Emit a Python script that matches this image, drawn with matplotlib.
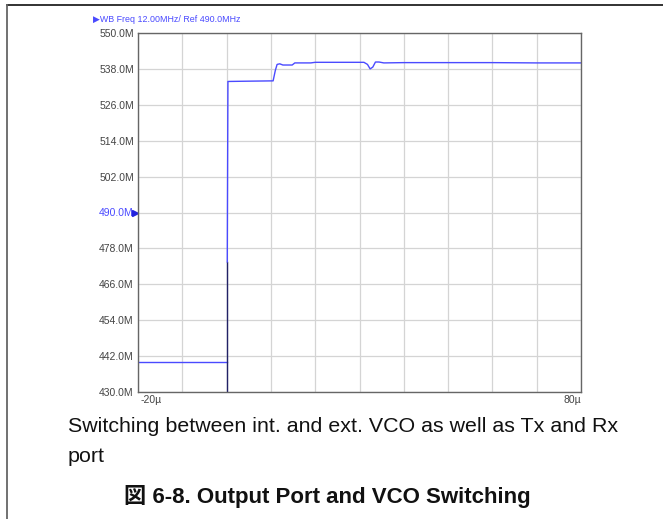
import matplotlib
matplotlib.use("Agg")
import matplotlib.pyplot as plt
import matplotlib.transforms as mtransforms
from matplotlib.lines import Line2D

# trace (time in microseconds, frequency in MHz)
t_low = [-20, 0.0]
f_low = [440.0, 440.0]
t_jump = [0.0, 0.0]
f_jump = [430.0, 473.5]
t_trace = [0.15, 0.3, 5.0, 10.5, 11.0, 11.4, 12.0, 12.7, 14.8, 15.4, 19.0, 20.0,
           31.0, 31.8, 32.4, 33.0, 33.6, 34.4, 35.5, 40, 50, 60, 70, 80]
f_trace = [473.5, 533.8, 533.9, 534.0, 537.5, 539.5, 539.7, 539.3, 539.3, 540.0, 540.0, 540.2,
           540.2, 539.5, 538.0, 538.6, 540.3, 540.3, 540.0, 540.1, 540.1, 540.1, 540.0, 540.0]

y_ticks = [430, 442, 454, 466, 478, 490, 502, 514, 526, 538, 550]
x_ticks = [-20, -10, 0, 10, 20, 30, 40, 50, 60, 70, 80]

blue = "#4a4aff"
label_font = ["Liberation Sans", "DejaVu Sans"]

fig = plt.figure(figsize=(6.63, 5.19), dpi=100)
ax = fig.add_axes([138 / 663, 1 - 392 / 519, 443 / 663, 359 / 519])

ax.plot(t_low, f_low, color=blue, lw=1.0)
ax.plot(t_jump, f_jump, color="#222266", lw=1.0)
ax.plot(t_trace, f_trace, color=blue, lw=1.0)

ax.set_xlim(-20, 80)
ax.set_ylim(430, 550)
ax.set_xticks(x_ticks)
ax.set_yticks(y_ticks)
ax.grid(True, color="#d4d4d4", lw=0.9)
ax.set_axisbelow(True)
for s in ax.spines.values():
    s.set_color("#666666")
    s.set_linewidth(1.0)
ax.tick_params(length=0, pad=3)
ax.set_xticklabels([])
ylabels = [f"{v:.1f}M" for v in y_ticks]
ax.set_yticklabels(ylabels, fontsize=7.5, family=label_font, color="#444444")
for lbl, v in zip(ax.get_yticklabels(), y_ticks):
    if v == 490:
        lbl.set_color(blue)

# x-axis end labels
ax.text(0.005, -0.008, "-20\u00b5", transform=ax.transAxes, ha="left", va="top",
        fontsize=7.5, family=label_font, color="#444444")
ax.text(1.0, -0.008, "80\u00b5", transform=ax.transAxes, ha="right", va="top",
        fontsize=7.5, family=label_font, color="#444444")

# reference marker at 490 MHz
trans = mtransforms.blended_transform_factory(ax.transAxes, ax.transData)
ax.plot([-0.006], [490], marker=">", color="#2222dd", ms=4, transform=trans, clip_on=False)

# header
fig.text(93 / 663, 1 - 20 / 519, "\u25b6WB Freq 12.00MHz/ Ref 490.0MHz", ha="left", va="center",
         fontsize=6.4, family=label_font, color=blue)

# page frame
fig.add_artist(Line2D([7 / 663, 1.0], [1 - 5 / 519, 1 - 5 / 519], color="#222222", lw=1.3,
                      transform=fig.transFigure))
fig.add_artist(Line2D([7 / 663, 7 / 663], [0, 1 - 5 / 519], color="#666666", lw=1.3,
                      transform=fig.transFigure))

# caption
fig.text(68 / 663, 1 - 426 / 519, "Switching between int. and ext. VCO as well as Tx and Rx",
         ha="left", va="center", fontsize=15.4, family=label_font, color="#111111")
fig.text(68 / 663, 1 - 457 / 519, "port",
         ha="left", va="center", fontsize=15.4, family=label_font, color="#111111")
fig.text(327 / 663, 1 - 497 / 519, "\u56f3 6-8. Output Port and VCO Switching",
         ha="center", va="center", fontsize=16.0, fontweight="bold",
         family=["Liberation Sans", "Noto Sans CJK JP"], color="#111111")

fig.savefig("out.png", dpi=100)
